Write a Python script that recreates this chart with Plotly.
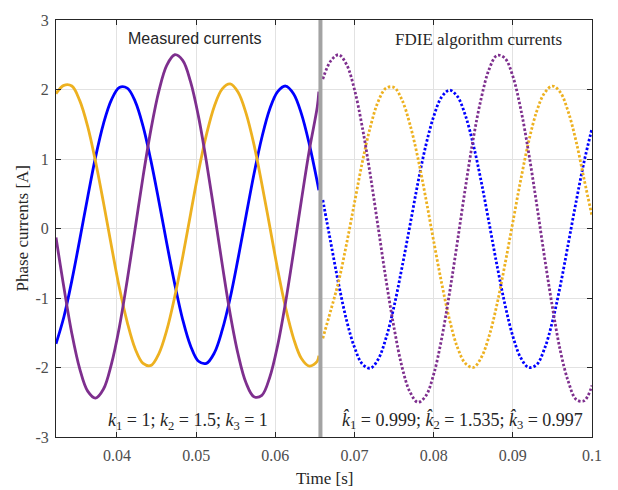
import plotly.graph_objects as go

# ---- data ----
measured_time = [0.0323, 0.0333, 0.0343, 0.0353, 0.0363, 0.0373, 0.0383, 0.0393, 0.0403, 0.0413,
                 0.0423, 0.0433, 0.0443, 0.0453, 0.0463, 0.0473, 0.0483, 0.0493, 0.0503, 0.0513,
                 0.0523, 0.0533, 0.0543, 0.0553, 0.0563, 0.0573, 0.0583, 0.0593, 0.0603, 0.0613,
                 0.0623, 0.0633, 0.0643, 0.0653, 0.0655]
measured_blue = [-1.66, -1.27, -0.75, -0.16, 0.45, 1.03, 1.51, 1.85, 2.03, 2.02,
                 1.83, 1.47, 0.97, 0.39, -0.22, -0.80, -1.31, -1.69, -1.91, -1.94,
                 -1.79, -1.46, -1.00, -0.43, 0.18, 0.78, 1.31, 1.72, 1.97, 2.05,
                 1.94, 1.65, 1.21, 0.67, 0.55]
measured_yellow = [1.94, 2.06, 2.05, 1.84, 1.47, 0.96, 0.37, -0.25, -0.85, -1.35,
                   -1.73, -1.94, -1.97, -1.80, -1.46, -0.98, -0.41, 0.21, 0.82, 1.35,
                   1.76, 2.01, 2.08, 1.96, 1.66, 1.21, 0.64, 0.03, -0.59, -1.14,
                   -1.58, -1.87, -1.98, -1.91, -1.83]
measured_purple = [-0.13, -0.85, -1.51, -2.02, -2.34, -2.44, -2.31, -1.95, -1.42, -0.74,
                   0.00, 0.75, 1.43, 1.98, 2.35, 2.50, 2.42, 2.11, 1.61, 0.96,
                   0.23, -0.52, -1.23, -1.81, -2.22, -2.42, -2.40, -2.14, -1.68, -1.06,
                   -0.34, 0.41, 1.13, 1.75, 1.97]

fdie_time = [0.066, 0.067, 0.068, 0.069, 0.070, 0.071, 0.072, 0.073, 0.074, 0.075,
             0.076, 0.077, 0.078, 0.079, 0.080, 0.081, 0.082, 0.083, 0.084, 0.085,
             0.086, 0.087, 0.088, 0.089, 0.090, 0.091, 0.092, 0.093, 0.094, 0.095,
             0.096, 0.097, 0.098, 0.099, 0.100]
fdie_blue = [0.41, -0.20, -0.80, -1.32, -1.71, -1.95, -2.01, -1.88, -1.57, -1.12,
             -0.56, 0.04, 0.65, 1.19, 1.61, 1.89, 1.99, 1.90, 1.63, 1.21,
             0.68, 0.08, -0.53, -1.09, -1.55, -1.86, -2.00, -1.96, -1.73, -1.34,
             -0.82, -0.22, 0.39, 0.96, 1.44]
fdie_yellow = [-1.58, -1.18, -0.76, -0.22, 0.37, 0.96, 1.46, 1.83, 2.02, 2.03,
               1.85, 1.50, 1.02, 0.44, -0.18, -0.78, -1.31, -1.71, -1.94, -2.00,
               -1.86, -1.55, -1.09, -0.52, 0.09, 0.70, 1.25, 1.68, 1.95, 2.05,
               1.96, 1.68, 1.25, 0.71, 0.18]
fdie_purple = [2.15, 2.41, 2.50, 2.36, 2.00, 1.45, 0.77, 0.01, -0.75, -1.43,
               -1.99, -2.35, -2.50, -2.41, -2.10, -1.59, -0.93, -0.19, 0.58, 1.29,
               1.87, 2.29, 2.49, 2.45, 2.19, 1.72, 1.09, 0.36, -0.41, -1.13,
               -1.76, -2.20, -2.46, -2.48, -2.26]

split_time = 0.0657
x_ticks = [0.04, 0.05, 0.06, 0.07, 0.08, 0.09, 0.1]
x_tick_labels = ["0.04", "0.05", "0.06", "0.07", "0.08", "0.09", "0.1"]
y_ticks = [-3, -2, -1, 0, 1, 2, 3]
y_tick_labels = ["-3", "-2", "-1", "0", "1", "2", "3"]

BLUE = "#0000FF"
YELLOW = "#EDB120"
PURPLE = "#7E2F8E"
SERIF = "Liberation Serif"
SANS = "Liberation Sans"

fig = go.Figure()

for y, c in [(measured_blue, BLUE), (measured_yellow, YELLOW), (measured_purple, PURPLE)]:
    fig.add_trace(go.Scatter(x=measured_time, y=y, mode="lines",
                             line=dict(color=c, width=2.8, shape="spline", smoothing=1.0),
                             showlegend=False, hoverinfo="skip"))

for y, c in [(fdie_blue, BLUE), (fdie_yellow, YELLOW), (fdie_purple, PURPLE)]:
    fig.add_trace(go.Scatter(x=fdie_time, y=y, mode="lines",
                             line=dict(color=c, width=2.8, shape="spline", smoothing=1.0,
                                       dash="2.5px,2px"),
                             showlegend=False, hoverinfo="skip"))

fig.add_shape(type="line", xref="x", yref="y", x0=split_time, x1=split_time, y0=-3, y1=3,
              line=dict(color="#a3a3a3", width=4), layer="above")

axis_common = dict(ticks="inside", ticklen=5, tickcolor="#262626", showline=True,
                   linecolor="#262626", linewidth=1, mirror="allticks",
                   showgrid=True, gridcolor="#e2e2e2", gridwidth=1, zeroline=False,
                   tickfont=dict(family=SERIF, size=16, color="#4d4d4d"))

fig.update_layout(
    width=618, height=490,
    margin=dict(l=56, r=26, t=15, b=53),
    paper_bgcolor="white", plot_bgcolor="white",
    xaxis=dict(range=[0.0323, 0.1], tickvals=x_ticks, ticktext=x_tick_labels,
               ticklabelstandoff=4, **axis_common),
    yaxis=dict(range=[-3, 3], tickvals=y_ticks, ticktext=y_tick_labels,
               ticklabelstandoff=3, **axis_common),
)

annotations = [
    dict(text="Measured currents", x=0.2575, y=0.955, xref="paper", yref="paper",
         showarrow=False, xanchor="center", yanchor="middle",
         font=dict(family=SANS, size=16, color="#262626")),
    dict(text="FDIE algorithm currents", x=0.789, y=0.953, xref="paper", yref="paper",
         showarrow=False, xanchor="center", yanchor="middle",
         font=dict(family=SERIF, size=17, color="#262626")),
    dict(text="<i>k</i><sub>1</sub> = 1; <i>k</i><sub>2</sub> = 1.5; <i>k</i><sub>3</sub> = 1",
         x=0.246, y=0.037, xref="paper", yref="paper", showarrow=False,
         xanchor="center", yanchor="middle",
         font=dict(family=SERIF, size=18, color="#262626")),
    dict(text="<i>k\u0302</i><sub>1</sub> = 0.999; <i>k\u0302</i><sub>2</sub> = 1.535; <i>k\u0302</i><sub>3</sub> = 0.997",
         x=0.759, y=0.040, xref="paper", yref="paper", showarrow=False,
         xanchor="center", yanchor="middle",
         font=dict(family=SERIF, size=18, color="#262626")),
    dict(text="Phase currents [A]", x=0, y=0.5, xref="paper", yref="paper",
         xshift=-34, showarrow=False, textangle=-90, xanchor="center", yanchor="middle",
         font=dict(family=SERIF, size=17, color="#262626")),
    dict(text="Time [s]", x=0.5, y=0, xref="paper", yref="paper",
         yshift=-41, showarrow=False, xanchor="center", yanchor="middle",
         font=dict(family=SERIF, size=17, color="#262626")),
]
fig.update_layout(annotations=annotations)

fig.write_html("out.html", config={"displayModeBar": False},
               post_script="document.body.style.margin='0';")
